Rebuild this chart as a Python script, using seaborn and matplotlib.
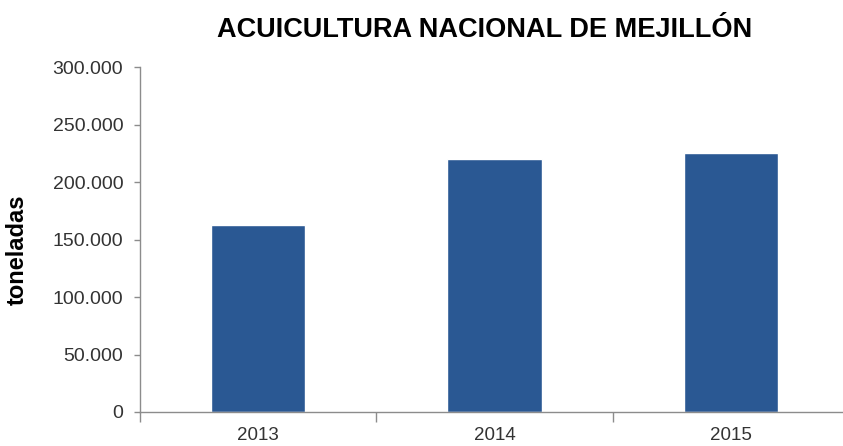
import numpy as np
import pandas as pd
import seaborn as sns
import matplotlib.pyplot as plt
from matplotlib.ticker import FuncFormatter, FixedLocator

# data
years = ["2013", "2014", "2015"]
toneladas = [162500, 220000, 225300]
y_ticks = [0, 50000, 100000, 150000, 200000, 250000, 300000]

df = pd.DataFrame({"year": years, "toneladas": toneladas})

sns.set_theme(style="white")
plt.rcParams["font.family"] = ["Liberation Sans", "DejaVu Sans"]

fig = plt.figure(figsize=(8.43, 4.46), dpi=100)
ax = fig.add_axes([140 / 843, 34 / 446, 709 / 843, 344.7 / 446])

sns.barplot(data=df, x="year", y="toneladas", color="#2A5893", width=0.4,
            saturation=1, ax=ax)

ax.set_xlim(-0.5, 2.5)
ax.set_ylim(0, 300000)
ax.set_yticks(y_ticks)
ax.yaxis.set_major_formatter(FuncFormatter(lambda v, p: f"{int(v):,}".replace(",", ".")))

# spines
for s in ["top", "right"]:
    ax.spines[s].set_visible(False)
for s in ["left", "bottom"]:
    ax.spines[s].set_color("#8c8c8c")
    ax.spines[s].set_linewidth(1)

ax.tick_params(axis="y", left=True, length=4, width=1, color="#8c8c8c",
               labelsize=14, labelcolor="#333333", pad=8)
ax.tick_params(axis="x", which="major", length=0, labelsize=13.5,
               labelcolor="#333333", pad=11)
ax.xaxis.set_minor_locator(FixedLocator([-0.5, 0.5, 1.5]))
ax.tick_params(axis="x", which="minor", bottom=True, length=7, width=1, color="#8c8c8c")

ax.set_xlabel("")
ax.set_ylabel("toneladas", fontsize=17, fontweight="bold", color="black")
ax.yaxis.set_label_coords(-(140 - 29) / 709, 0.47)

fig.text(485 / 843, 1 - 30 / 446, "ACUICULTURA NACIONAL DE MEJILLÓN",
         ha="center", va="center", fontsize=19.5, fontweight="bold", color="black")

fig.savefig("out.png", dpi=100)
